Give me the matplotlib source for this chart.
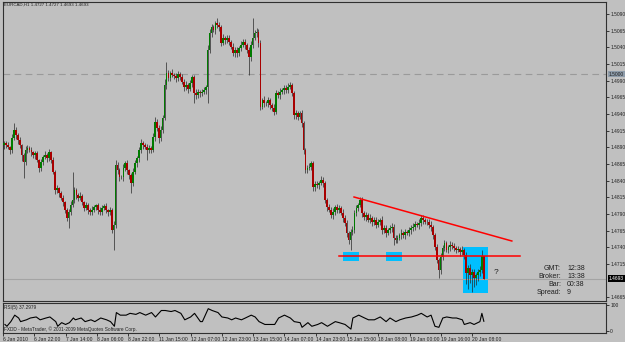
import matplotlib
matplotlib.use("Agg")
import matplotlib.pyplot as plt
from matplotlib.patches import Rectangle
import numpy as np

plt.rcParams['font.family'] = ['Liberation Sans', 'DejaVu Sans']

# EURCAD H1 closes, bar 0 = 6 Jan 2010 06:00
closes = [
    1.4896, 1.4893, 1.4890, 1.4886, 1.4904, 1.4916, 1.4908, 1.4901, 1.4893, 1.4878,
    1.4868, 1.4886, 1.4889, 1.4886, 1.4883, 1.4878, 1.4881, 1.4871, 1.4859, 1.4868,
    1.4875, 1.4878, 1.4874, 1.4883, 1.4871, 1.4853, 1.4826, 1.4829, 1.4821, 1.4814,
    1.4808, 1.4796, 1.4784, 1.4793, 1.4803, 1.4811, 1.4826, 1.4818, 1.4814, 1.4817,
    1.4808, 1.4799, 1.4803, 1.4796, 1.4793, 1.4796, 1.4800, 1.4803, 1.4796, 1.4793,
    1.4799, 1.4802, 1.4796, 1.4793, 1.4796, 1.4766, 1.4773, 1.4863, 1.4856, 1.4845,
    1.4845, 1.4859, 1.4866, 1.4856, 1.4848, 1.4836, 1.4853, 1.4866, 1.4874, 1.4886,
    1.4896, 1.4893, 1.4890, 1.4886, 1.4889, 1.4886, 1.4905, 1.4928, 1.4919, 1.4904,
    1.4916, 1.4934, 1.4983, 1.5001, 1.4994, 1.5001, 1.4998, 1.4997, 1.4994, 1.5000,
    1.4995, 1.4988, 1.4980, 1.4983, 1.4977, 1.4986, 1.4995, 1.4971, 1.4968, 1.4973,
    1.4971, 1.4973, 1.4976, 1.4980, 1.5036, 1.5061, 1.5070, 1.5066, 1.5076, 1.5073,
    1.5070, 1.5046, 1.5054, 1.5051, 1.5054, 1.5048, 1.5040, 1.5031, 1.5036, 1.5031,
    1.5039, 1.5043, 1.5048, 1.5043, 1.5036, 1.5025, 1.5043, 1.5054, 1.5061, 1.5063,
    1.5046, 1.4950, 1.4961, 1.4956, 1.4956, 1.4961, 1.4953, 1.4949, 1.4943, 1.4971,
    1.4968, 1.4973, 1.4976, 1.4979, 1.4976, 1.4980, 1.4983, 1.4971, 1.4938, 1.4941,
    1.4935, 1.4941, 1.4926, 1.4886, 1.4856, 1.4859, 1.4860, 1.4866, 1.4830, 1.4835,
    1.4833, 1.4836, 1.4841, 1.4836, 1.4811, 1.4800, 1.4796, 1.4788, 1.4793, 1.4800,
    1.4796, 1.4799, 1.4791, 1.4784, 1.4776, 1.4761, 1.4751, 1.4763, 1.4766, 1.4791,
    1.4799, 1.4803, 1.4811, 1.4791, 1.4785, 1.4788, 1.4781, 1.4784, 1.4778, 1.4781,
    1.4773, 1.4778, 1.4781, 1.4766, 1.4769, 1.4761, 1.4766, 1.4769, 1.4770, 1.4754,
    1.4751, 1.4754, 1.4758, 1.4761, 1.4758, 1.4763, 1.4761, 1.4766, 1.4769, 1.4770,
    1.4775, 1.4773, 1.4776, 1.4784, 1.4781, 1.4778, 1.4778, 1.4773, 1.4770, 1.4758,
    1.4740, 1.4721, 1.4706, 1.4725, 1.4739, 1.4746, 1.4736, 1.4740, 1.4743, 1.4742,
    1.4739, 1.4736, 1.4737, 1.4733, 1.4736, 1.4728, 1.4701, 1.4709, 1.4698, 1.4703,
    1.4694, 1.4698, 1.4703, 1.4706, 1.4727, 1.4693,
]
first_open = 1.4893

# wicks in pips above / below the body
up_wick = [
    4, 3, 5, 2, 6, 10, 4, 3, 5, 2,   3, 6, 4, 3, 5, 2, 4, 3, 2, 5,
    4, 6, 3, 5, 2, 4, 3, 5, 2, 3,    4, 2, 3, 5, 6, 42, 5, 3, 4, 6,
    3, 2, 5, 4, 3, 6, 4, 2, 3, 5,    4, 3, 5, 2, 4, 3, 6, 8, 5, 3,
    4, 6, 3, 5, 2, 4, 6, 5, 3, 4,    6, 4, 3, 5, 4, 3, 6, 8, 4, 5,
    6, 4, 10, 17, 5, 4, 6, 3, 5, 4,  3, 5, 4, 6, 3, 5, 4, 3, 6, 4,
    3, 5, 4, 3, 8, 6, 5, 4, 3, 8,    5, 4, 6, 3, 5, 4, 3, 6, 4, 5,
    3, 6, 4, 5, 3, 4, 6, 30, 5, 6,   4, 5, 3, 6, 4, 5, 3, 4, 6, 5,
    4, 6, 3, 5, 4, 6, 5, 4, 3, 5,    4, 3, 5, 4, 3, 5, 6, 4, 3, 5,
    4, 3, 6, 5, 4, 3, 5, 4, 6, 3,    5, 4, 3, 6, 4, 5, 3, 4, 6, 5,
    4, 3, 5, 4, 3, 5, 4, 6, 3, 4,    5, 4, 3, 6, 4, 5, 3, 4, 6, 5,
    4, 5, 3, 6, 4, 5, 3, 4, 5, 6,    4, 3, 6, 5, 4, 3, 5, 4, 6, 3,
    4, 5, 3, 6, 4, 5, 3, 4, 6, 5,    4, 3, 5, 4, 6, 3, 5, 4, 6, 5,
    4, 3, 5, 6, 9, 0,
]
down_wick = [
    5, 4, 3, 6, 4, 3, 5, 6, 4, 8,    24, 4, 5, 3, 6, 4, 5, 3, 6, 4,
    5, 3, 6, 4, 5, 3, 6, 4, 5, 3,    6, 4, 5, 15, 4, 3, 5, 6, 4, 3,
    5, 4, 3, 6, 4, 5, 3, 4, 6, 5,    4, 3, 5, 6, 4, 5, 30, 4, 6, 5,
    3, 5, 4, 6, 5, 15, 4, 3, 5, 6,   4, 5, 3, 15, 5, 4, 3, 6, 4, 8,
    5, 4, 3, 6, 4, 5, 3, 4, 6, 5,    4, 3, 5, 4, 6, 3, 5, 15, 6, 4,
    5, 4, 3, 6, 24, 4, 5, 3, 6, 4,   5, 4, 3, 6, 4, 5, 3, 4, 6, 5,
    4, 5, 3, 6, 4, 26, 5, 4, 3, 6,   5, 4, 3, 6, 4, 5, 6, 4, 5, 3,
    4, 5, 3, 6, 4, 5, 3, 4, 6, 5,    4, 3, 5, 6, 4, 5, 3, 4, 6, 5,
    4, 5, 3, 6, 4, 5, 3, 4, 6, 5,    4, 5, 3, 6, 4, 5, 6, 15, 5, 4,
    4, 5, 3, 6, 4, 5, 3, 4, 6, 5,    4, 3, 5, 6, 4, 5, 3, 4, 6, 10,
    4, 5, 3, 6, 4, 5, 3, 4, 6, 5,    4, 3, 5, 4, 6, 3, 5, 4, 6, 5,
    4, 5, 12, 6, 4, 5, 3, 4, 6, 5,   4, 5, 3, 6, 4, 5, 16, 24, 12, 25,
    14, 10, 8, 6, 4, 0,
]

# RSI line, sampled along the bars
rsi_bar = [0, 1, 3, 5, 7, 8, 11, 13, 16, 18, 21, 23, 26, 27, 29, 31, 33, 35, 36, 39,
           41, 44, 46, 49, 52, 54, 56, 57, 59, 62, 64, 67, 69, 72, 75, 77, 80, 82, 85, 87,
           90, 92, 95, 97, 100, 101, 104, 106, 109, 111, 114, 116, 118, 121, 123, 126, 128, 130, 133, 135,
           138, 140, 143, 146, 148, 151, 152, 155, 157, 160, 162, 165, 169, 171, 174, 177, 178, 181, 184, 186,
           189, 192, 195, 197, 200, 202, 205, 208, 211, 213, 216, 218, 220, 222, 224, 226, 229, 231, 234, 235,
           238, 240, 243, 244, 245]
rsi_val = [25, 18, 36, 61, 50, 36, 43, 50, 54, 43, 50, 54, 36, 18, 32, 25, 32, 50, 43, 50,
           36, 43, 36, 50, 43, 36, 18, 71, 61, 61, 68, 64, 71, 61, 71, 54, 79, 79, 75, 79,
           68, 43, 54, 68, 36, 36, 86, 79, 71, 54, 50, 43, 50, 43, 50, 61, 54, 36, 25, 25,
           25, 50, 61, 50, 36, 32, 14, 32, 18, 25, 32, 18, 36, 32, 25, 7, 50, 61, 50, 43,
           43, 54, 36, 50, 36, 43, 50, 54, 61, 68, 54, 61, 18, 14, 50, 54, 50, 50, 43, 25,
           32, 25, 36, 68, 37.3]

time_labels = ['6 Jan 2010', '6 Jan 22:00', '7 Jan 14:00', '8 Jan 06:00', '8 Jan 22:00',
               '11 Jan 15:00', '12 Jan 07:00', '12 Jan 23:00', '13 Jan 15:00', '14 Jan 07:00',
               '14 Jan 23:00', '15 Jan 15:00', '18 Jan 08:00', '19 Jan 00:00', '19 Jan 16:00',
               '20 Jan 08:00']
time_bars = [16 * k for k in range(len(time_labels))]
# 1.4690 sits under the bid box, so it is not listed
price_ticks = [1.4665, 1.4715, 1.4740, 1.4765, 1.4790, 1.4815, 1.4840, 1.4865, 1.4890,
               1.4915, 1.4940, 1.4965, 1.4990, 1.5015, 1.5040, 1.5065, 1.5090]

# drawn objects (bar index, price)
trend_line = ([178.8, 259.4], [1.48155, 1.47495])
support_line = ([171, 263.5], [1.4727, 1.4727])
boxes = [(173.1, 1.47195, 8.2, 0.00135), (195.1, 1.47195, 8.2, 0.00135),
         (234.4, 1.46715, 12.8, 0.0069)]

bg = '#C0C0C0'
fig = plt.figure(figsize=(6.25, 3.42), dpi=100, facecolor=bg)
ax = fig.add_axes([3 / 625, 1 - 301 / 342, 603 / 625, 299 / 342])
rax = fig.add_axes([3 / 625, 1 - 333 / 342, 603 / 625, 30 / 342])
for a in (ax, rax):
    a.set_facecolor(bg)
    a.set_xlim(-0.5, 307.5)
    for s in a.spines.values():
        s.set_color('#303030')
        s.set_linewidth(0.8)
ax.set_ylim(1.46595, 1.5108)
rax.set_ylim(-8, 108)

# candles
c = np.array(closes)
o = np.concatenate([[first_open], c[:-1]])
hi = np.maximum(o, c) + np.array(up_wick) * 0.0001
lo = np.minimum(o, c) - np.array(down_wick) * 0.0001
x = np.arange(len(c))
ax.vlines(x, lo, hi, color='#282828', lw=0.5, zorder=3)
up = c >= o
body = np.maximum(np.abs(c - o), 0.00004)
ax.bar(x[up], body[up], bottom=o[up], width=0.9, color='#007A00', zorder=4, linewidth=0)
ax.bar(x[~up], body[~up], bottom=c[~up], width=0.9, color='#A80000', zorder=4, linewidth=0)

# objects
for bx, by, bw, bh in boxes:
    ax.add_patch(Rectangle((bx, by), bw, bh, color='#00BFFF', zorder=1, lw=0))
ax.plot(*trend_line, color='red', lw=1.1, zorder=5)
ax.plot(*support_line, color='red', lw=1.1, zorder=5)
ax.axhline(1.5000, color='#9A9A9A', lw=0.8, ls=(0, (6, 4)), zorder=2)
ax.axhline(c[-1], color='#A4A4A4', lw=0.8, zorder=2)
ax.text(250, 1.4703, '?', fontsize=6, color='#202020', va='center')

# price axis
ax.set_xticks([])
ax.yaxis.tick_right()
ax.set_yticks(price_ticks)
ax.set_yticklabels(['%.4f' % p for p in price_ticks])
ax.tick_params(axis='y', direction='out', length=2, width=0.6, labelsize=3.5, pad=1,
               colors='#202020')
yt = ax.get_yaxis_transform()
ax.text(1.005, 1.5000, '1.5000', transform=yt, fontsize=3.5, va='center', ha='left',
        color='#202020', bbox=dict(boxstyle='square,pad=0.15', fc='#8E9CAA', ec='none'))
ax.text(1.005, c[-1], '%.4f' % c[-1], transform=yt, fontsize=3.5, va='center', ha='left',
        color='white', bbox=dict(boxstyle='square,pad=0.15', fc='black', ec='none'))

# RSI panel
rax.plot(rsi_bar, rsi_val, color='black', lw=0.8)
rax.yaxis.tick_right()
rax.set_yticks([0, 100])
rax.set_yticklabels(['0', '100'])
rax.tick_params(axis='y', direction='out', length=2, width=0.6, labelsize=3.5, pad=1,
                colors='#202020')
rax.set_xticks([b - 1 for b in time_bars])
rax.set_xticklabels(time_labels)
rax.tick_params(axis='x', direction='out', length=2, width=0.6, labelsize=3.6, pad=1,
                colors='#202020')
for lbl in rax.get_xticklabels():
    lbl.set_ha('left')

# texts
fig.text(4 / 625, 1 - 5 / 342, 'EURCAD,H1 1.4727 1.4727 1.4693 1.4693', fontsize=3.2,
         va='center', color='#202020')
fig.text(4 / 625, 1 - 308 / 342, 'RSI(5) 37.2979', fontsize=3.4, va='center', color='#202020')
fig.text(4 / 625, 1 - 329 / 342, 'FXDD - MetaTrader, \u00a9 2001-2009 MetaQuotes Software Corp.',
         fontsize=3.4, va='center', color='#202020')
info_labels = ['GMT:', 'Broker:', 'Bar:', 'Spread:']
info_values = ['12:38', '13:38', '00:38', '9']
for k, (lab, val) in enumerate(zip(info_labels, info_values)):
    yy = 1 - (268 + 8 * k) / 342
    fig.text(561 / 625, yy, lab, fontsize=5, ha='right', va='center', color='#202020')
    fig.text(567 / 625, yy, val, fontsize=5, ha='left', va='center', color='#202020')

fig.savefig('out.png', dpi=100, facecolor=bg)
